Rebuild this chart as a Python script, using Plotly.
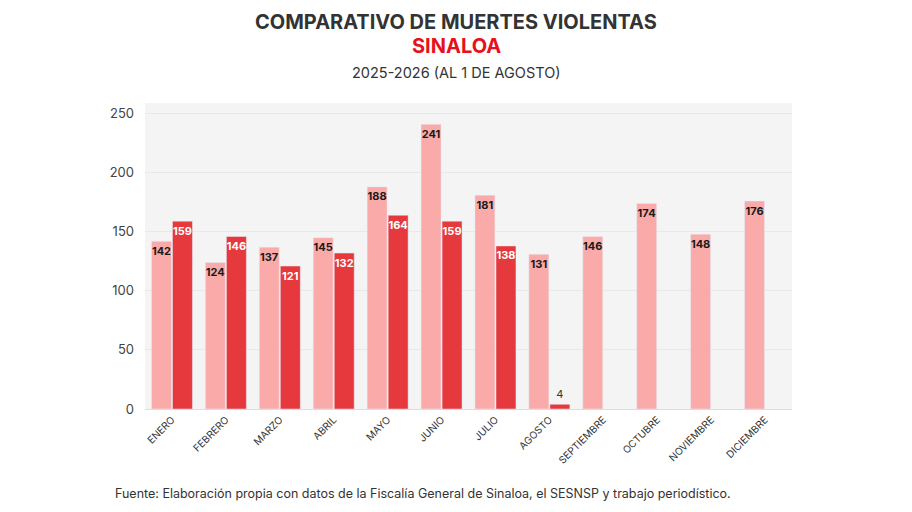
import plotly.graph_objects as go

months = ["ENERO", "FEBRERO", "MARZO", "ABRIL", "MAYO", "JUNIO", "JULIO",
          "AGOSTO", "SEPTIEMBRE", "OCTUBRE", "NOVIEMBRE", "DICIEMBRE"]
deaths_2025 = [142, 124, 137, 145, 188, 241, 181, 131, 146, 174, 148, 176]
deaths_2026 = [159, 146, 121, 132, 164, 159, 138, 4, None, None, None, None]

LIGHT = "#f9aaa9"
DARK = "#e5393d"

W, H = 896, 496  # page body has an 8px margin

fig = go.Figure()

fig.add_trace(
    go.Bar(
        x=months,
        y=deaths_2025,
        name="2025",
        marker=dict(color=LIGHT),
        text=deaths_2025,
        textposition="inside",
        insidetextanchor="end",
        textangle=0,
        constraintext="none",
        textfont=dict(family="Inter", size=11.5, color="#1a1a1a", weight="bold"),
    )
)

# small values get their label above the bar, in a plain dark font
small = [v is not None and v < 20 for v in deaths_2026]
fig.add_trace(
    go.Bar(
        x=months,
        y=deaths_2026,
        name="2026",
        marker=dict(color=DARK),
        text=[v if v is not None else "" for v in deaths_2026],
        textposition=["outside" if s else "inside" for s in small],
        insidetextanchor="end",
        textangle=0,
        constraintext="none",
        cliponaxis=False,
        textfont=dict(
            family="Inter",
            size=[11 if s else 11.5 for s in small],
            color=["#333333" if s else "white" for s in small],
            weight=["normal" if s else "bold" for s in small],
        ),
    )
)

fig.update_layout(
    width=W,
    height=H,
    paper_bgcolor="white",
    plot_bgcolor="#f4f4f4",
    showlegend=False,
    barmode="group",
    bargap=0.22,
    bargroupgap=0.05,
    margin=dict(l=137, r=112, t=95, b=95),
    uniformtext=dict(minsize=11, mode="show"),
    font=dict(family="Inter", color="#444444"),
)

fig.update_xaxes(
    tickangle=-45,
    tickfont=dict(family="Inter", size=10, color="#333333"),
    showgrid=False,
    showline=True,
    linecolor="#dddddd",
)
fig.update_yaxes(
    range=[0, 259],
    tickvals=[0, 50, 100, 150, 200, 250],
    tickfont=dict(family="Inter", size=13, color="#444444"),
    gridcolor="#e8e8e8",
    zeroline=False,
    ticklabelstandoff=10,
)


def px_y(py):
    # pixel row within the figure -> paper y
    return 1 - (py - 95) / (H - 190)


def px_x(px):
    return (px - 137) / (W - 249)


fig.add_annotation(
    text="<b>COMPARATIVO DE MUERTES VIOLENTAS</b>",
    xref="paper", yref="paper", x=px_x(448), y=px_y(14),
    xanchor="center", yanchor="middle", showarrow=False,
    font=dict(family="Inter", size=20, color="#333333"),
)
fig.add_annotation(
    text="<b>SINALOA</b>",
    xref="paper", yref="paper", x=px_x(448), y=px_y(38),
    xanchor="center", yanchor="middle", showarrow=False,
    font=dict(family="Inter", size=20, color="#e8101a"),
)
fig.add_annotation(
    text="2025-2026 (AL 1 DE AGOSTO)",
    xref="paper", yref="paper", x=px_x(448), y=px_y(65),
    xanchor="center", yanchor="middle", showarrow=False,
    font=dict(family="Inter", size=14.5, color="#333333"),
)
fig.add_annotation(
    text="Fuente: Elaboración propia con datos de la Fiscalía General de Sinaloa, el SESNSP y trabajo periodístico.",
    xref="paper", yref="paper", x=px_x(105), y=px_y(486),
    xanchor="left", yanchor="middle", showarrow=False,
    font=dict(family="Inter", size=12.5, color="#333333"),
)

fig.write_html("out.html")
